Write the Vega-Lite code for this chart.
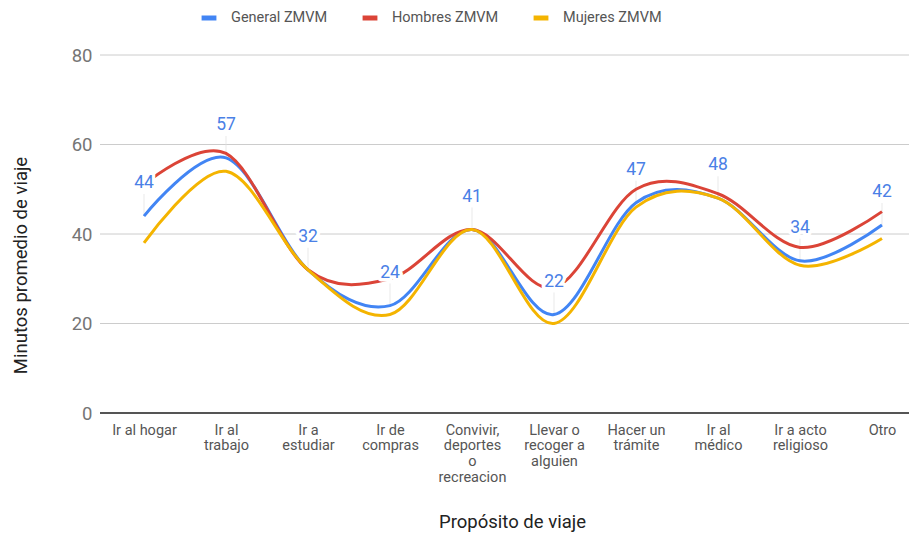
{
  "$schema": "https://vega.github.io/schema/vega-lite/v6.json",
  "autosize": "none",
  "width": 809,
  "height": 358,
  "padding": {"left": 100, "top": 55, "right": 0, "bottom": 122},
  "background": "white",
  "config": {
    "font": "Roboto",
    "view": {"stroke": null}
  },
  "datasets": {
    "viajes": [
      {"proposito": "Ir al hogar", "serie": "General ZMVM", "minutos": 44},
      {"proposito": "Ir al trabajo", "serie": "General ZMVM", "minutos": 57},
      {"proposito": "Ir a estudiar", "serie": "General ZMVM", "minutos": 32},
      {"proposito": "Ir de compras", "serie": "General ZMVM", "minutos": 24},
      {"proposito": "Convivir, deportes o recreacion", "serie": "General ZMVM", "minutos": 41},
      {"proposito": "Llevar o recoger a alguien", "serie": "General ZMVM", "minutos": 22},
      {"proposito": "Hacer un trámite", "serie": "General ZMVM", "minutos": 47},
      {"proposito": "Ir al médico", "serie": "General ZMVM", "minutos": 48},
      {"proposito": "Ir a acto religioso", "serie": "General ZMVM", "minutos": 34},
      {"proposito": "Otro", "serie": "General ZMVM", "minutos": 42},
      {"proposito": "Ir al hogar", "serie": "Hombres ZMVM", "minutos": 51},
      {"proposito": "Ir al trabajo", "serie": "Hombres ZMVM", "minutos": 58},
      {"proposito": "Ir a estudiar", "serie": "Hombres ZMVM", "minutos": 32},
      {"proposito": "Ir de compras", "serie": "Hombres ZMVM", "minutos": 30},
      {"proposito": "Convivir, deportes o recreacion", "serie": "Hombres ZMVM", "minutos": 41},
      {"proposito": "Llevar o recoger a alguien", "serie": "Hombres ZMVM", "minutos": 28},
      {"proposito": "Hacer un trámite", "serie": "Hombres ZMVM", "minutos": 50},
      {"proposito": "Ir al médico", "serie": "Hombres ZMVM", "minutos": 49},
      {"proposito": "Ir a acto religioso", "serie": "Hombres ZMVM", "minutos": 37},
      {"proposito": "Otro", "serie": "Hombres ZMVM", "minutos": 45},
      {"proposito": "Ir al hogar", "serie": "Mujeres ZMVM", "minutos": 38},
      {"proposito": "Ir al trabajo", "serie": "Mujeres ZMVM", "minutos": 54},
      {"proposito": "Ir a estudiar", "serie": "Mujeres ZMVM", "minutos": 32},
      {"proposito": "Ir de compras", "serie": "Mujeres ZMVM", "minutos": 22},
      {"proposito": "Convivir, deportes o recreacion", "serie": "Mujeres ZMVM", "minutos": 41},
      {"proposito": "Llevar o recoger a alguien", "serie": "Mujeres ZMVM", "minutos": 20},
      {"proposito": "Hacer un trámite", "serie": "Mujeres ZMVM", "minutos": 46},
      {"proposito": "Ir al médico", "serie": "Mujeres ZMVM", "minutos": 48},
      {"proposito": "Ir a acto religioso", "serie": "Mujeres ZMVM", "minutos": 33},
      {"proposito": "Otro", "serie": "Mujeres ZMVM", "minutos": 39}
    ],
    "grid": [{"minutos": 0}, {"minutos": 20}, {"minutos": 40}, {"minutos": 60}, {"minutos": 80}]
  },
  "encoding": {
    "y": {
      "field": "minutos",
      "type": "quantitative",
      "scale": {"domain": [0, 80], "nice": false, "zero": true},
      "axis": {
        "title": "Minutos promedio de viaje",
        "titleFont": "Roboto",
        "titleFontSize": 18.5,
        "titleFontWeight": "normal",
        "titleColor": "#222222",
        "titleX": -80,
        "titleY": 210,
        "titleAngle": -90,
        "titleAlign": "center",
        "titleBaseline": "middle",
        "values": [0, 20, 40, 60, 80],
        "labelFont": "Roboto",
        "labelFontSize": 18.5,
        "labelColor": "#757575",
        "labelPadding": 8,
        "ticks": false,
        "domain": false,
        "grid": false
      }
    }
  },
  "layer": [
    {
      "data": {"name": "grid"},
      "mark": {"type": "rule"},
      "encoding": {
        "strokeWidth": {"condition": {"test": "datum.minutos === 0", "value": 2}, "value": 1},
        "color": {"condition": {"test": "datum.minutos === 0", "value": "#555555"}, "value": "#cccccc"}
      }
    },
    {
      "data": {"name": "viajes"},
      "encoding": {
        "x": {
          "field": "proposito",
          "type": "nominal",
          "sort": null,
          "scale": {"type": "point", "range": [44, 782], "padding": 0},
          "axis": {
            "title": "Propósito de viaje",
            "titleFont": "Roboto",
            "titleFontSize": 18.5,
            "titleFontWeight": "normal",
            "titleColor": "#222222",
            "titleX": 412,
            "titleY": 108,
            "titleBaseline": "middle",
            "labelAngle": 0,
            "labelFont": "Roboto",
            "labelFontSize": 14.5,
            "labelColor": "#555555",
            "labelLineHeight": 15.7,
            "labelPadding": 17,
            "labelBaseline": "middle",
            "labelOverlap": false,
            "labelExpr": "datum.value == 'Ir al trabajo' ? ['Ir al','trabajo'] : datum.value == 'Ir a estudiar' ? ['Ir a','estudiar'] : datum.value == 'Ir de compras' ? ['Ir de','compras'] : datum.value == 'Convivir, deportes o recreacion' ? ['Convivir,','deportes','o','recreacion'] : datum.value == 'Llevar o recoger a alguien' ? ['Llevar o','recoger a','alguien'] : datum.value == 'Hacer un trámite' ? ['Hacer un','trámite'] : datum.value == 'Ir al médico' ? ['Ir al','médico'] : datum.value == 'Ir a acto religioso' ? ['Ir a acto','religioso'] : datum.value",
            "ticks": false,
            "domain": false,
            "grid": false
          }
        }
      },
      "layer": [
        {
          "transform": [{"filter": "datum.serie === 'General ZMVM'"}],
          "mark": {"type": "tick", "orient": "vertical", "size": 22, "thickness": 1, "yOffset": -11, "color": "#e0e0e0"}
        },
        {
          "mark": {"type": "line", "interpolate": "cardinal", "strokeWidth": 3},
          "encoding": {
            "color": {
              "field": "serie",
              "type": "nominal",
              "scale": {
                "domain": ["General ZMVM", "Hombres ZMVM", "Mujeres ZMVM"],
                "range": ["#4285F4", "#DB4437", "#F4B400"]
              },
              "legend": {
                "title": null,
                "orient": "none",
                "direction": "horizontal",
                "legendX": 99,
                "legendY": -47,
                "symbolType": "stroke",
                "symbolStrokeWidth": 5,
                "symbolSize": 220,
                "labelFont": "Roboto",
                "labelFontSize": 14.5,
                "labelColor": "#555555",
                "labelOffset": 12,
                "columnPadding": 24
              }
            }
          }
        },
        {
          "transform": [{"filter": "datum.serie === 'General ZMVM'"}],
          "mark": {"type": "text", "dy": -33, "baseline": "middle", "font": "Roboto", "fontSize": 17.5, "fill": "white", "stroke": "white", "strokeWidth": 7, "strokeJoin": "round"},
          "encoding": {"text": {"field": "minutos", "type": "quantitative"}}
        },
        {
          "transform": [{"filter": "datum.serie === 'General ZMVM'"}],
          "mark": {"type": "text", "dy": -33, "baseline": "middle", "font": "Roboto", "fontSize": 17.5, "fill": "#4a80e6"},
          "encoding": {"text": {"field": "minutos", "type": "quantitative"}}
        }
      ]
    }
  ]
}
